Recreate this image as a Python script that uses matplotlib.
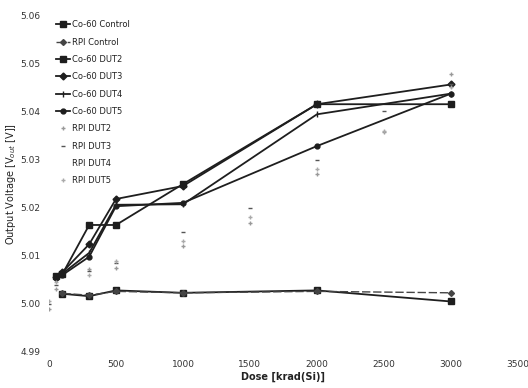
import matplotlib
matplotlib.use("Agg")
import matplotlib.pyplot as plt

# Doses
dose_co = [50, 100, 300, 500, 1000, 2000, 3000]
dose_ctrl = [100, 300, 500, 1000, 2000, 3000]
dose_rpi = [0, 50, 300, 500, 1000, 1500, 2000, 2500, 3000]

co60_control = [5.0021, 5.0016, 5.0028, 5.0023, 5.0028, 5.0005]
rpi_control = [5.0022, 5.0018, 5.0026, 5.0023, 5.0026, 5.0023]

co60_dut2 = [5.0058, 5.0062, 5.0164, 5.0164, 5.0249, 5.0415, 5.0415]
co60_dut3 = [5.0055, 5.0066, 5.0124, 5.0218, 5.0245, 5.0415, 5.0456]
co60_dut4 = [5.0057, 5.0063, 5.0106, 5.0206, 5.0207, 5.0394, 5.0437]
co60_dut5 = [5.0053, 5.0060, 5.0098, 5.0203, 5.0210, 5.0328, 5.0437]

rpi_dut2 = [4.9990, 5.0030, 5.0073, 5.0075, 5.0120, 5.0168, 5.0270, 5.0357, 5.0477]
rpi_dut3 = [5.0000, 5.0040, 5.0068, 5.0085, 5.0150, 5.0200, 5.0300, 5.0400, 5.0456]
rpi_dut4 = [4.9995, 5.0035, 5.0070, 5.0080, 5.0140, 5.0190, 5.0290, 5.0380, 5.0440]
rpi_dut5 = [5.0005, 5.0045, 5.0060, 5.0090, 5.0130, 5.0180, 5.0280, 5.0360, 5.0450]

x_ticks = [0, 500, 1000, 1500, 2000, 2500, 3000, 3500]
y_ticks = [4.99, 5.00, 5.01, 5.02, 5.03, 5.04, 5.05, 5.06]

fig = plt.figure(figsize=(5.28, 3.88), dpi=100)
ax = fig.add_axes([0.0928, 0.0928, 0.888, 0.868])

dark = "#1e1e1e"
ax.plot(dose_ctrl, co60_control, color=dark, lw=1.3, marker="s", ms=4, label="Co-60 Control")
ax.plot(dose_ctrl, rpi_control, color="#444444", lw=1.0, ls=(0, (6, 2)), marker="D", ms=3, label="RPI Control")
ax.plot(dose_co, co60_dut2, color=dark, lw=1.3, marker="s", ms=4, label="Co-60 DUT2")
ax.plot(dose_co, co60_dut3, color=dark, lw=1.3, marker="D", ms=3.5, label="Co-60 DUT3")
ax.plot(dose_co, co60_dut4, color=dark, lw=1.3, marker="|", ms=4, label="Co-60 DUT4")
ax.plot(dose_co, co60_dut5, color=dark, lw=1.3, marker="o", ms=3.5, label="Co-60 DUT5")

ax.plot(dose_rpi, rpi_dut2, color="#dddddd", lw=0.6, ls="none", marker="+", ms=3,
        markeredgecolor="#999999", label="RPI DUT2")
ax.plot(dose_rpi, rpi_dut3, color="#f2f2f2", lw=0.6, ls="none", marker="_", ms=3,
        markeredgecolor="#555555", label="RPI DUT3")
ax.plot(dose_rpi, rpi_dut4, color="white", lw=0.6, ls="none", marker="none", label="RPI DUT4")
ax.plot(dose_rpi, rpi_dut5, color="#dddddd", lw=0.6, ls="none", marker="+", ms=3,
        markeredgecolor="#aaaaaa", label="RPI DUT5")

ax.set_xlim(0, 3500)
ax.set_ylim(4.99, 5.06)
ax.set_xticks(x_ticks)
ax.set_xticklabels([str(v) for v in x_ticks])
ax.set_yticks(y_ticks)
ax.set_yticklabels([f"{v:.2f}" for v in y_ticks])
ax.tick_params(length=0, labelsize=6.5, colors="#333333", pad=6)
for s in ax.spines.values():
    s.set_visible(False)

ax.set_xlabel("Dose [krad(Si)]", fontsize=7, fontweight="bold", color="#222222", labelpad=2)
ax.set_ylabel("Output Voltage [V$_{out}$ [V]]", fontsize=7, color="#222222", labelpad=2)

leg = ax.legend(loc="upper left", bbox_to_anchor=(0.005, 1.0), frameon=False, fontsize=6,
                handlelength=1.6, handletextpad=0.3, labelspacing=1.0, borderaxespad=0.2)
for t in leg.get_texts():
    t.set_color("#222222")

fig.savefig("out.png", dpi=100)
